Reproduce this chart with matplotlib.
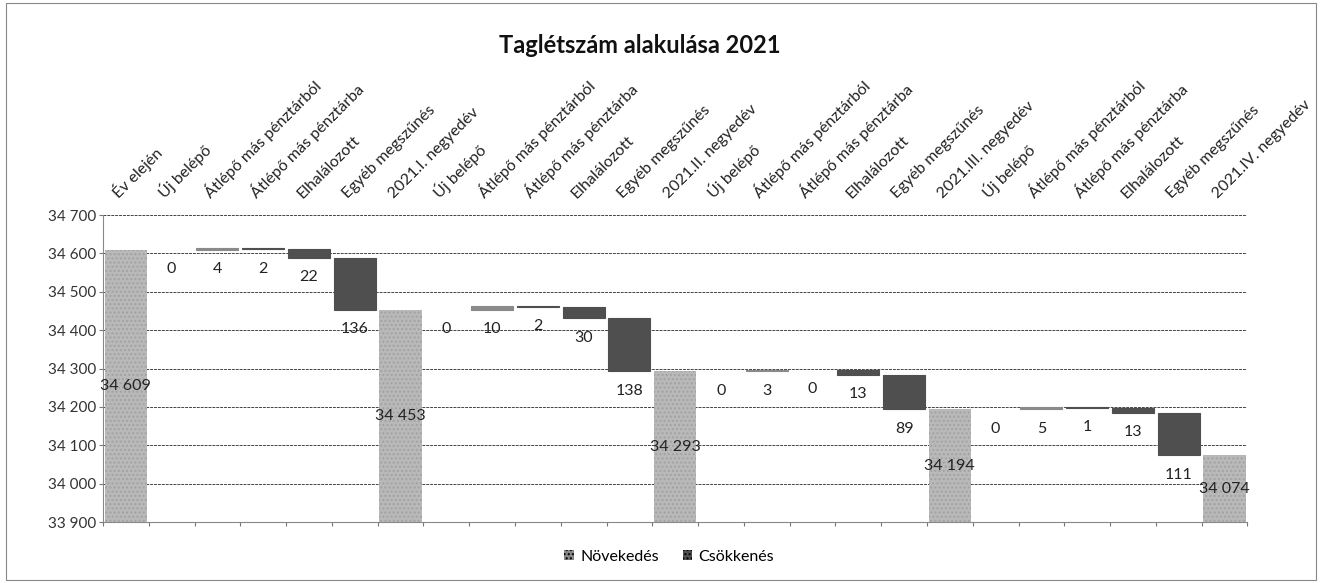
import matplotlib
matplotlib.use("Agg")
import matplotlib.pyplot as plt
from matplotlib.patches import Patch, Rectangle

plt.rcParams['font.family'] = ['Lato', 'DejaVu Sans']

# kategóriák, értékek és típusok (összeg / növekedés / csökkenés)
categories = ["Év elején", "Új belépő", "Átlépő más pénztárból", "Átlépő más pénztárba",
              "Elhalálozott", "Egyéb megszűnés", "2021.I. negyedév",
              "Új belépő", "Átlépő más pénztárból", "Átlépő más pénztárba",
              "Elhalálozott", "Egyéb megszűnés", "2021.II. negyedév",
              "Új belépő", "Átlépő más pénztárból", "Átlépő más pénztárba",
              "Elhalálozott", "Egyéb megszűnés", "2021.III. negyedév",
              "Új belépő", "Átlépő más pénztárból", "Átlépő más pénztárba",
              "Elhalálozott", "Egyéb megszűnés", "2021.IV. negyedév"]
values = [34609, 0, 4, 2, 22, 136, 34453,
          0, 10, 2, 30, 138, 34293,
          0, 3, 0, 13, 89, 34194,
          0, 5, 1, 13, 111, 34074]
kinds = ["total", "inc", "inc", "dec", "dec", "dec", "total",
         "inc", "inc", "dec", "dec", "dec", "total",
         "inc", "inc", "dec", "dec", "dec", "total",
         "inc", "inc", "dec", "dec", "dec", "total"]

c_total = "#b9b9b9"
c_inc = "#8a8a8a"
c_dec = "#4f4f4f"

def fmt(v):
    return f"{v:,}".replace(",", " ")

fig = plt.figure(figsize=(13.2, 5.83), dpi=100)
ax = fig.add_axes([0.078, 0.1046, 0.867, 0.5266])
ymin, ymax = 33900, 34700
ax.set_ylim(ymin, ymax)
ax.set_xlim(-0.5, len(categories) - 0.5)

level = 0
w = 0.92
for i, (v, k) in enumerate(zip(values, kinds)):
    if k == "total":
        level = v
        ax.bar(i, v, width=w, color=c_total, hatch="....", edgecolor="#a2a2a2",
               linewidth=0, zorder=3)
        ax.text(i, (ymin + v) / 2, fmt(v), ha="center", va="center",
                fontsize=11.5, color="#222222", zorder=4)
    else:
        if k == "inc":
            bottom = level
            level += v
            col = c_inc
        else:
            level -= v
            bottom = level
            col = c_dec
        if v > 0:
            ax.bar(i, v, bottom=bottom, width=w, color=col, edgecolor=col,
                   linewidth=0.8, zorder=3)
        ax.annotate(fmt(v), (i, bottom), xytext=(0, -14), textcoords="offset points",
                    ha="center", va="center", fontsize=11.5, color="#222222", zorder=4)

# rács és tengelyek
ax.set_yticks(range(ymin, ymax + 1, 100))
ax.set_yticklabels([fmt(t) for t in range(ymin, ymax + 1, 100)], fontsize=11, color="#333333")
ax.yaxis.grid(True, color="#444444", linestyle=(0, (3, 1)), linewidth=0.7, zorder=0)
ax.set_axisbelow(True)
ax.set_xticks([i + 0.5 for i in range(-1, len(categories))])
ax.set_xticklabels([])
ax.tick_params(axis="x", length=3, color="#777777")
ax.tick_params(axis="y", length=3, color="#777777", pad=2)
for s in ["top", "right"]:
    ax.spines[s].set_visible(False)
ax.spines["left"].set_color("#888888")
ax.spines["bottom"].set_color("#888888")

# kategórianevek felül, ferdén
for i, c in enumerate(categories):
    ax.text(i - 0.1, 1.045, c, transform=ax.get_xaxis_transform(), rotation=45,
            rotation_mode="anchor", ha="left", va="bottom", fontsize=11.5, color="#222222")

fig.text(0.485, 0.922, "Taglétszám alakulása 2021", ha="center", va="center",
         fontsize=17, fontweight="bold", color="#111111")

handles = [Patch(facecolor=c_inc, hatch="...."), Patch(facecolor=c_dec, hatch="....")]
fig.legend(handles, ["Növekedés", "Csökkenés"], loc="center",
           bbox_to_anchor=(0.507, 0.045), ncol=2, frameon=False, fontsize=11.5,
           handlelength=0.6, handleheight=0.6, columnspacing=1.5, handletextpad=0.4)

fig.patches.append(Rectangle((6 / 1320, 3 / 583), 1310 / 1320, 577 / 583,
                             transform=fig.transFigure, fill=False,
                             edgecolor="#888888", linewidth=0.8))

fig.savefig("out.png", dpi=100)
